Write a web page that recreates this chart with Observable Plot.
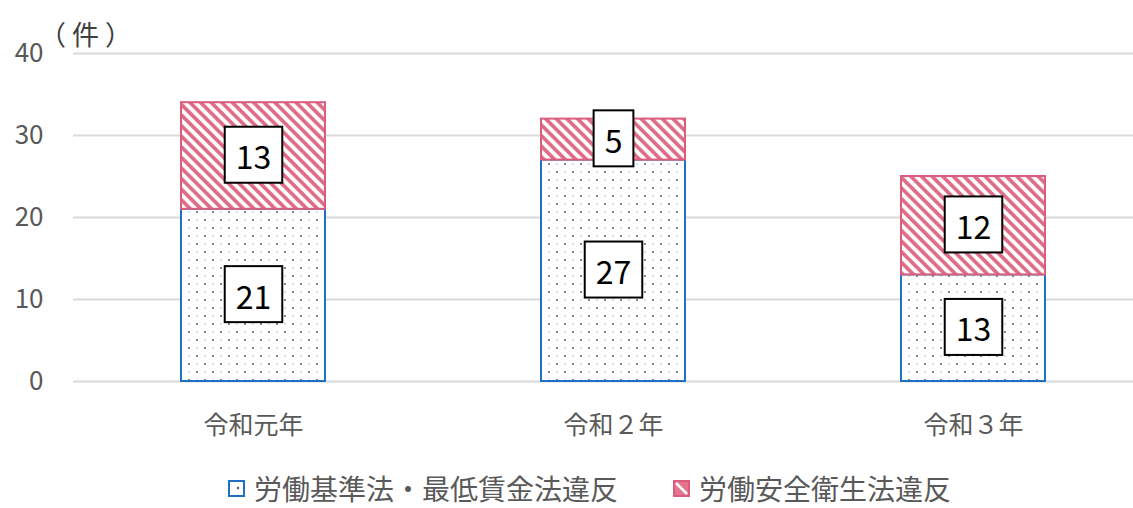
<!DOCTYPE html>
<html><head><meta charset="utf-8">
<script src="https://cdn.jsdelivr.net/npm/d3@7"></script>
<script src="https://cdn.jsdelivr.net/npm/@observablehq/plot@0.6"></script>
<style>
body{margin:0;background:#fff;font-family:'Noto Sans CJK JP','Noto Sans',sans-serif;overflow:hidden;}
#legend{display:flex;justify-content:center;align-items:center;line-height:1.3;margin-top:0;color:#595959;font-size:28px;padding-left:46px;white-space:nowrap;}
.item{display:flex;align-items:center;}
.item svg{margin-right:9px;}
.item + .item{margin-left:55px;}
</style></head><body><div id="chart"></div><div id="legend"></div>
<script>
// ---- data ----
const years = ["令和元年", "令和２年", "令和３年"];
const seriesNames = ["労働基準法・最低賃金法違反", "労働安全衛生法違反"];
const laborStandardsViolations = [21, 27, 13];
const safetyHealthViolations = [13, 5, 12];
const yTicks = [0, 10, 20, 30, 40];
const unitLabel = "（件）";

// ---- styles (kept separate from data) ----
const seriesFill = {[seriesNames[0]]: "url(#dotsPat)", [seriesNames[1]]: "url(#stripePat)"};
const seriesStroke = {[seriesNames[0]]: "#1f6fc5", [seriesNames[1]]: "#db5c7c"};

const table = [];
years.forEach((y, i) => {
  table.push({year: y, series: seriesNames[0], value: laborStandardsViolations[i]});
  table.push({year: y, series: seriesNames[1], value: safetyHealthViolations[i]});
});

const plot = Plot.plot({
  width: 1133,
  height: 470,
  marginLeft: 73,
  marginRight: 0,
  marginTop: 53,
  marginBottom: 89,
  style: {fontFamily: "'Noto Sans CJK JP','Noto Sans',sans-serif", color: "#595959", background: "#fff"},
  x: {domain: years, range: [73, 1153], paddingInner: 0.6, paddingOuter: 0.3, label: null},
  y: {domain: [0, 40], label: null},
  color: {type: "identity"},
  marks: [
    Plot.gridY(yTicks, {stroke: "#d9d9d9", strokeOpacity: 1, strokeWidth: 2}),
    Plot.axisY({ticks: yTicks, tickSize: 0, tickPadding: 30, fontSize: 26, label: null}),
    Plot.axisX({tickSize: 0, tickPadding: 35, fontSize: 25, label: null}),
    Plot.barY(table, {x: "year", y: "value", z: "series", fill: d => seriesFill[d.series], stroke: d => seriesStroke[d.series], strokeWidth: 2}),
    Plot.text(table, Plot.stackY({x: "year", y: "value", z: "series", text: d => String(d.value), fill: "#000", fontSize: 32, dy: 3})),
    Plot.text([unitLabel], {frameAnchor: "top-left", text: d => d, dx: 15, dy: -28, fontSize: 27, textAnchor: "middle", fill: "#404040"})
  ]
});

document.getElementById("chart").appendChild(plot);
const svg = d3.select(plot);
const defs = svg.insert("defs", ":first-child");
const sp = defs.append("pattern").attr("id", "stripePat").attr("patternUnits", "userSpaceOnUse")
  .attr("width", 7.5).attr("height", 7.5).attr("patternTransform", "rotate(-45)");
sp.append("rect").attr("width", 7.5).attr("height", 7.5).attr("fill", "#fff");
sp.append("rect").attr("width", 3.8).attr("height", 7.5).attr("fill", "#e5748f");
sp.append("rect").attr("x", 1.3).attr("width", 1.2).attr("height", 7.5).attr("fill", "#c85a74").attr("opacity", 0.5);
const dp = defs.append("pattern").attr("id", "dotsPat").attr("patternUnits", "userSpaceOnUse")
  .attr("width", 16).attr("height", 16);
dp.append("rect").attr("width", 16).attr("height", 16).attr("fill", "#fff");
dp.append("circle").attr("cx", 5).attr("cy", 4).attr("r", 1.0).attr("fill", "#56606e");
dp.append("circle").attr("cx", 13).attr("cy", 12).attr("r", 1.0).attr("fill", "#56606e");
dp.append("circle").attr("cx", 13).attr("cy", 4).attr("r", 1.1).attr("fill", "#bcdcf2");
dp.append("circle").attr("cx", 5).attr("cy", 12).attr("r", 1.1).attr("fill", "#bcdcf2");

// boxes behind value labels
svg.selectAll("text").filter(function() { return /^\d+$/.test(this.textContent); })
  .each(function() {
    const g = this.parentNode;
    if (!g || g.getAttribute("aria-label") !== "text") return;
    const b = this.getBBox();
    const w = b.width + 22, h = 56;
    const cx = b.x + b.width / 2, cy = b.y + b.height / 2 - 0.5;
    const t = this.getAttribute("transform");
    const r = document.createElementNS("http://www.w3.org/2000/svg", "rect");
    r.setAttribute("x", cx - w / 2); r.setAttribute("y", cy - h / 2);
    r.setAttribute("width", w); r.setAttribute("height", h);
    r.setAttribute("fill", "#fff"); r.setAttribute("stroke", "#000"); r.setAttribute("stroke-width", 2);
    if (t) r.setAttribute("transform", t);
    g.insertBefore(r, this);
  });
// widen the unit label spacing
svg.selectAll("text").filter(function() { return this.textContent === unitLabel; })
  .attr("letter-spacing", "6px");

// legend
const legend = d3.select("#legend");
const i1 = legend.append("div").attr("class", "item");
const s1 = i1.append("svg").attr("width", 17).attr("height", 17);
s1.append("rect").attr("x", 1).attr("y", 1).attr("width", 15).attr("height", 15).attr("fill", "#fff").attr("stroke", "#1f6fc5").attr("stroke-width", 2);
s1.append("circle").attr("cx", 10).attr("cy", 8).attr("r", 1.2).attr("fill", "#4a5668");
i1.append("span").text(seriesNames[0]);
const i2 = legend.append("div").attr("class", "item");
const s2 = i2.append("svg").attr("width", 17).attr("height", 17);
s2.append("rect").attr("x", 1).attr("y", 1).attr("width", 15).attr("height", 15).attr("fill", "#e5748f").attr("stroke", "#db5c7c").attr("stroke-width", 2);
s2.append("line").attr("x1", 3).attr("y1", 3).attr("x2", 14).attr("y2", 14).attr("stroke", "#fff").attr("stroke-width", 2.5);
i2.append("span").text(seriesNames[1]);
</script></body></html>
